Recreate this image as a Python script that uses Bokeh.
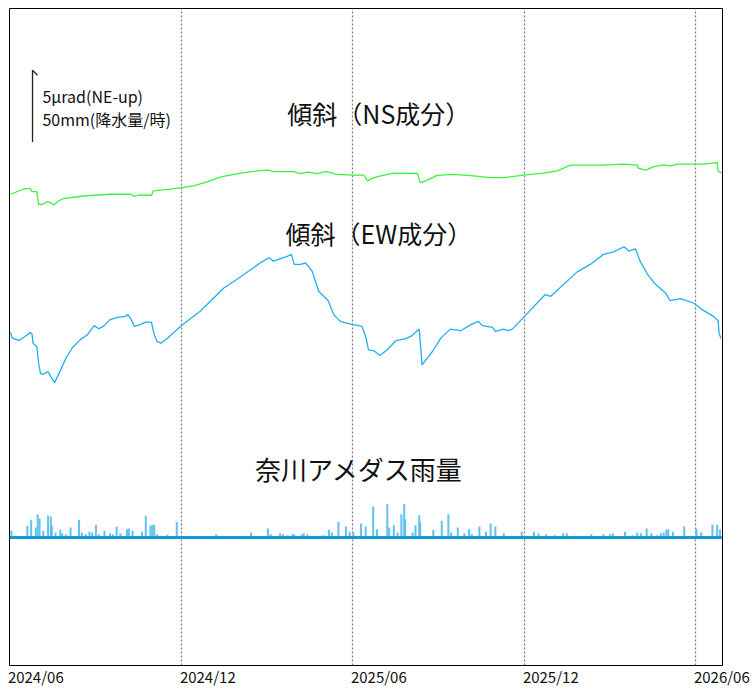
from bokeh.plotting import figure
from bokeh.models import Range1d, FixedTicker, Label, ColumnDataSource
from bokeh.embed import file_html
from bokeh.resources import INLINE

# ---- data (x = days since 2024-06-01) ----
ns_day = [1, 12, 17, 22, 24, 29, 31, 35, 40, 44, 47, 52, 57, 79, 107, 129, 132, 139, 151, 153,
          164, 184, 196, 211, 225, 246, 264, 275, 281, 302, 310, 317, 328, 337, 348, 365, 377, 381, 387, 395,
          409, 434, 437, 443, 455, 472, 491, 512, 526, 547, 568, 583, 597, 632, 653, 668, 669, 677, 685, 696,
          703, 711, 728, 739, 753, 754, 758]
ns_urad = [0.47, 0.75, 0.86, 0.86, 0.65, 0.65, -0.23, -0.23, -0.05, -0.12, -0.28, 0.00, 0.16, 0.35, 0.47, 0.47, 0.33, 0.42, 0.40, 0.70,
           0.77, 0.93, 1.05, 1.35, 1.68, 1.94, 2.10, 2.15, 2.05, 2.05, 1.91, 2.01, 1.91, 2.07, 1.86, 1.80, 1.80, 1.40, 1.61, 1.75,
           1.94, 1.93, 1.28, 1.40, 1.79, 1.86, 1.77, 1.63, 1.63, 1.80, 1.94, 2.10, 2.50, 2.50, 2.57, 2.50, 2.29, 2.15, 2.38, 2.52,
           2.45, 2.57, 2.57, 2.57, 2.68, 2.10, 1.94]

ew_day = [1, 3, 10, 15, 22, 24, 25, 29, 31, 33, 36, 41, 44, 48, 52, 60, 67, 76, 83, 90,
          95, 100, 107, 115, 123, 126, 129, 133, 139, 145, 151, 154, 157, 161, 168, 184, 203, 228, 239, 257,
          267, 276, 281, 296, 300, 303, 310, 315, 322, 329, 339, 345, 352, 359, 366, 375, 379, 382, 388, 394,
          402, 411, 420, 427, 436, 439, 450, 459, 469, 480, 491, 499, 503, 514, 517, 526, 530, 535, 547, 570,
          576, 604, 618, 632, 643, 654, 659, 666, 671, 679, 686, 698, 703, 714, 728, 737, 749, 754, 755, 757]
ew_urad = [0.65, 0.23, 0.07, 0.28, 0.63, 0.51, -0.12, -0.35, -1.52, -2.22, -2.29, -2.10, -2.45, -2.87, -2.33, -1.17, -0.42, 0.16, 0.47, 1.10,
           0.89, 1.05, 1.52, 1.68, 1.75, 1.87, 1.59, 1.05, 1.17, 1.35, 1.35, 0.47, 0.00, -0.12, 0.23, 1.17, 2.10, 3.73, 4.20, 5.02,
           5.48, 5.83, 5.60, 5.95, 6.07, 5.37, 5.37, 5.48, 4.90, 3.50, 2.85, 1.87, 1.40, 1.28, 1.17, 1.05, 0.35, -0.58, -0.65, -0.98,
           -0.58, 0.05, 0.16, 0.35, 0.86, -1.63, -0.70, 0.23, 0.86, 0.75, 1.17, 1.40, 1.10, 0.98, 0.70, 0.86, 0.75, 0.86, 1.68, 3.27,
           3.15, 4.85, 5.37, 6.07, 6.25, 6.60, 6.30, 6.46, 5.60, 4.67, 4.08, 3.38, 2.85, 2.99, 2.68, 2.22, 1.75, 1.45, 0.58, 0.23]

rain_day = [2, 19, 23, 28, 30, 32, 36, 41, 44, 45, 49, 54, 56, 60, 65, 74, 77, 81, 85, 88,
            92, 95, 101, 107, 110, 114, 118, 125, 127, 131, 141, 145, 150, 152, 154, 157, 161, 168, 178, 191,
            201, 220, 228, 242, 251, 257, 275, 278, 288, 291, 296, 301, 303, 311, 313, 317, 326, 331, 334, 340,
            343, 350, 358, 362, 366, 374, 379, 387, 391, 402, 404, 409, 413, 417, 420, 421, 429, 432, 436, 437,
            451, 460, 467, 470, 477, 484, 489, 492, 500, 507, 512, 517, 526, 535, 545, 558, 563, 571, 580, 589,
            593, 602, 619, 632, 639, 642, 655, 663, 668, 672, 678, 683, 689, 693, 696, 699, 701, 706, 718, 731,
            736, 748, 753, 756]
rain_mm = [4.7, 8.2, 12.4, 7.0, 16.3, 13.3, 4.7, 15.2, 14.7, 8.2, 3.5, 5.4, 3.0, 2.3, 7.0, 12.4, 3.5, 2.3, 4.0, 3.5,
           8.9, 2.3, 4.7, 3.0, 2.3, 7.7, 3.0, 5.8, 6.3, 4.7, 4.0, 15.2, 8.2, 8.9, 8.9, 2.3, 1.2, 1.9, 11.0, 1.2,
           0.7, 2.3, 1.2, 0.7, 1.2, 3.5, 6.3, 2.3, 3.0, 2.3, 1.6, 2.3, 2.3, 2.3, 3.0, 2.3, 1.2, 1.2, 1.6, 5.4,
           3.5, 11.0, 7.7, 4.0, 3.5, 9.8, 7.7, 21.7, 5.8, 23.3, 7.0, 8.6, 3.5, 16.3, 23.3, 12.8, 3.5, 8.6, 15.6, 10.5,
           5.4, 11.7, 16.3, 3.5, 7.0, 3.0, 5.8, 2.3, 7.7, 4.0, 9.8, 7.7, 3.0, 1.2, 4.0, 4.0, 2.8, 2.3, 1.6, 3.0,
           3.0, 1.2, 2.3, 2.3, 2.3, 3.0, 4.0, 1.6, 3.5, 3.0, 6.3, 3.0, 1.6, 3.0, 3.5, 5.4, 5.8, 4.0, 7.7, 6.3,
           3.5, 8.9, 8.9, 5.8]

tick_days = [0, 183, 365, 548, 730]
tick_labels = ["2024/06", "2024/12", "2025/06", "2025/12", "2026/06"]

SCALE_URAD = 5.0       # scale bar: 5 urad
SCALE_MM = 50.0        # = 50 mm/h

# ---- layout constants ----
X_END = 758.7
Y_BOTTOM = 0.28
Y_TOP = 46.08
NS_BASE = 32.66
EW_BASE = 22.87
RAIN_BASE = 9.20
MM_TO_URAD = SCALE_URAD / SCALE_MM
LABEL_SHIFT = 28

CJK = "'Noto Sans CJK JP', sans-serif"

p = figure(width=753, height=689, output_backend="svg", toolbar_location=None,
           x_range=Range1d(0, X_END), y_range=Range1d(Y_BOTTOM, Y_TOP),
           y_axis_location=None,
           min_border_left=9, min_border_right=31, min_border_top=8, min_border_bottom=0)
p.background_fill_color = "white"
p.border_fill_color = "white"
p.outline_line_color = "black"
p.outline_line_width = 1

ax = p.xaxis[0]
ax.ticker = FixedTicker(ticks=[d + LABEL_SHIFT for d in tick_days])
ax.major_label_overrides = {d + LABEL_SHIFT: l for d, l in zip(tick_days, tick_labels)}
ax.major_tick_line_color = None
ax.minor_tick_line_color = None
ax.major_tick_out = 0
ax.major_tick_in = 0
ax.minor_tick_out = 0
ax.axis_line_color = None
ax.major_label_standoff = 0
ax.major_label_text_font = CJK
ax.major_label_text_font_size = "15px"
ax.major_label_text_color = "#111111"

p.xgrid.ticker = FixedTicker(ticks=tick_days)
p.xgrid.grid_line_color = "#7a7a7a"
p.xgrid.grid_line_dash = "2 2"
p.xgrid.grid_line_width = 1.2
p.ygrid.visible = False

ns_src = ColumnDataSource(dict(x=ns_day, y=[NS_BASE + v for v in ns_urad]))
ew_src = ColumnDataSource(dict(x=ew_day, y=[EW_BASE + v for v in ew_urad]))
rain_src = ColumnDataSource(dict(x=rain_day, top=[RAIN_BASE + m * MM_TO_URAD for m in rain_mm]))

p.line("x", "y", source=ns_src, line_color="#3cf23c", line_width=1.3)
p.line("x", "y", source=ew_src, line_color="#1fb0ea", line_width=1.3)
p.vbar(x="x", top="top", bottom=RAIN_BASE, width=2.2, source=rain_src,
       fill_color="#55bceb", line_color=None, fill_alpha=0.9)
p.line([0, rain_day[-1] + 2], [RAIN_BASE, RAIN_BASE], line_color="#0f9ad6", line_width=3)

# scale bar
SCALE_DAY = 24.5
SCALE_BOTTOM = 36.78
p.line([SCALE_DAY + 5.3, SCALE_DAY, SCALE_DAY],
       [SCALE_BOTTOM + SCALE_URAD - 0.35, SCALE_BOTTOM + SCALE_URAD, SCALE_BOTTOM],
       line_color="#222222", line_width=1.3)

p.add_layout(Label(x=35, y=40.0, text="5μrad(NE-up)", text_font=CJK, text_font_size="16px",
                   text_align="left", text_baseline="middle", text_color="#111111"))
p.add_layout(Label(x=35, y=38.39, text="50mm(降水量/時)", text_font=CJK, text_font_size="16px",
                   text_align="left", text_baseline="middle", text_color="#111111"))

p.add_layout(Label(x=393, y=38.80, text="傾斜（NS成分）", text_font=CJK, text_font_size="25px",
                   text_align="center", text_baseline="middle", text_color="#111111"))
p.add_layout(Label(x=393, y=30.45, text="傾斜（EW成分）", text_font=CJK, text_font_size="25px",
                   text_align="center", text_baseline="middle", text_color="#111111"))
p.add_layout(Label(x=372, y=14.02, text="奈川アメダス雨量", text_font=CJK, text_font_size="26px",
                   text_align="center", text_baseline="middle", text_color="#111111"))

open("out.html", "w").write(file_html(p, INLINE))
